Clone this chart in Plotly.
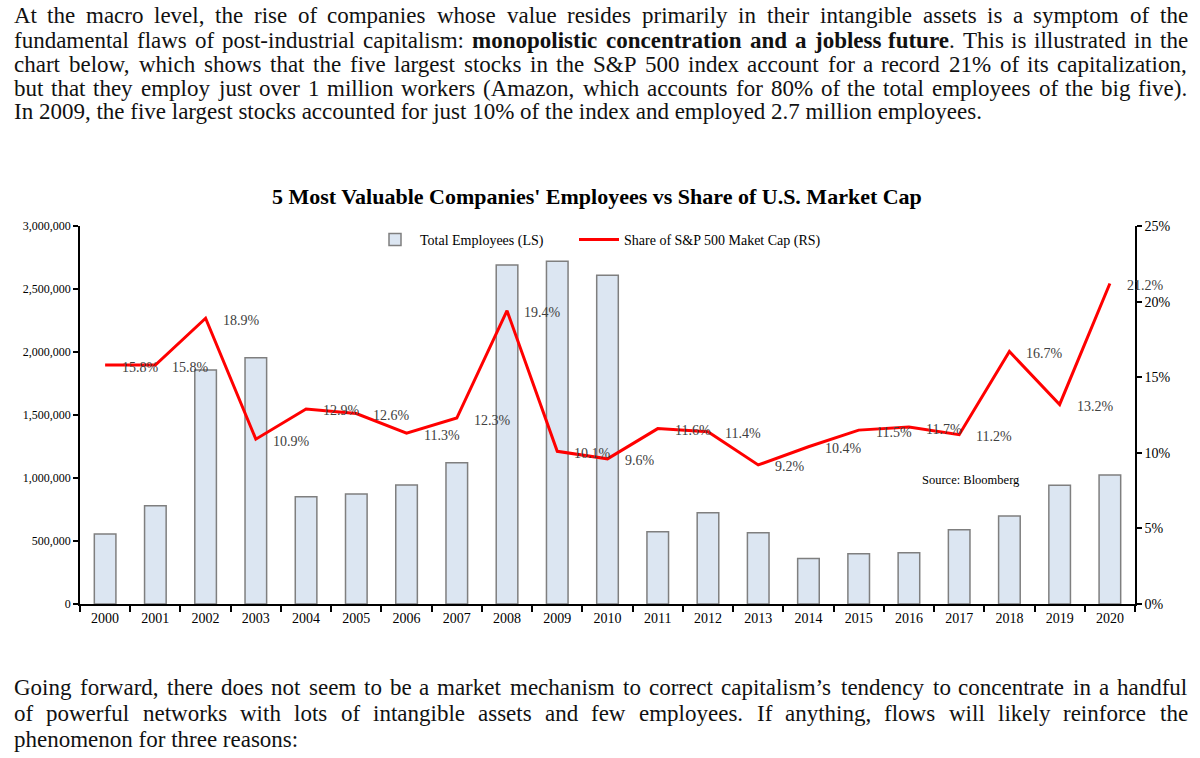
import re
import plotly.graph_objects as go

years = [str(y) for y in range(2000, 2021)]
employees = [555000, 780000, 1857000, 1955000, 852000, 873000, 944000, 1121000,
             2690000, 2720000, 2610000, 574000, 725000, 566000, 362000, 399000,
             407000, 590000, 698000, 942000, 1024000]
share = [15.8, 15.8, 18.9, 10.9, 12.9, 12.6, 11.3, 12.3, 19.4, 10.1, 9.6,
         11.6, 11.4, 9.2, 10.4, 11.5, 11.7, 11.2, 16.7, 13.2, 21.2]
share_frac = [v / 100 for v in share]
share_labels = [f"{v:.1f}%" for v in share]

left_ticks = [0, 500000, 1000000, 1500000, 2000000, 2500000, 3000000]
right_ticks = [0, 0.05, 0.10, 0.15, 0.20, 0.25]

top_lines = [
    "At the macro level, the rise of companies whose value resides primarily in their intangible assets is a symptom of the",
    "fundamental flaws of post-industrial capitalism: <b>monopolistic</b> <b>concentration</b> <b>and</b> <b>a</b> <b>jobless</b> <b>future</b>. This is illustrated in the",
    "chart below, which shows that the five largest stocks in the S&P 500 index account for a record 21% of its capitalization,",
    "but that they employ just over 1 million workers (Amazon, which accounts for 80% of the total employees of the big five).",
    "In 2009, the five largest stocks accounted for just 10% of the index and employed 2.7 million employees.",
]
top_justify = [True, True, True, True, False]
bottom_lines = [
    "Going forward, there does not seem to be a market mechanism to correct capitalism’s tendency to concentrate in a handful",
    "of powerful networks with lots of intangible assets and few employees. If anything, flows will likely reinforce the",
    "phenomenon for three reasons:",
]
bottom_justify = [True, True, False]

SERIF = "Liberation Serif, Times New Roman, serif"
W, H = 1200, 758
L, R, T, B = 80, 65, 226, 154
PW, PH = W - L - R, H - T - B
TEXT_LEFT, TEXT_RIGHT, TEXT_SIZE = 12, 1186, 23
WIDTH_FUDGE = 1.01

# Times/Liberation Serif advance widths (per 1000 em)
REG = {' ': 250, '%': 833, '&': 778, "'": 333, '’': 333, '(': 333, ')': 333, ',': 250,
       '-': 333, '.': 250, ':': 278, ';': 278, '?': 444,
       'A': 722, 'B': 667, 'C': 667, 'D': 722, 'E': 611, 'F': 556, 'G': 722, 'H': 722,
       'I': 333, 'J': 389, 'K': 722, 'L': 611, 'M': 889, 'N': 722, 'O': 722, 'P': 556,
       'Q': 722, 'R': 667, 'S': 556, 'T': 611, 'U': 722, 'V': 722, 'W': 944, 'X': 722,
       'Y': 722, 'Z': 611,
       'a': 444, 'b': 500, 'c': 444, 'd': 500, 'e': 444, 'f': 333, 'g': 500, 'h': 500,
       'i': 278, 'j': 278, 'k': 500, 'l': 278, 'm': 778, 'n': 500, 'o': 500, 'p': 500,
       'q': 500, 'r': 333, 's': 389, 't': 278, 'u': 500, 'v': 500, 'w': 722, 'x': 500,
       'y': 500, 'z': 444}
BOLD = {'a': 500, 'b': 556, 'c': 444, 'd': 556, 'e': 444, 'f': 333, 'g': 500, 'h': 556,
        'i': 278, 'j': 333, 'k': 556, 'l': 278, 'm': 833, 'n': 556, 'o': 500, 'p': 556,
        'q': 556, 'r': 444, 's': 389, 't': 333, 'u': 556, 'v': 500, 'w': 722, 'x': 500,
        'y': 500, 'z': 444, ' ': 250, '.': 250}


def word_width(word, size):
    total = 0
    for part in re.split(r"(<b>.*?</b>)", word):
        if part.startswith("<b>"):
            for ch in part[3:-4]:
                total += BOLD.get(ch, REG.get(ch, 500))
        else:
            for ch in part:
                total += REG.get(ch, 500)
    return total * size / 1000 * WIDTH_FUDGE


def px(x):
    return (x - L) / PW


def py(y):
    return (H - B - y) / PH


def text_line(line, yy, justify, annotations):
    font = dict(family=SERIF, size=TEXT_SIZE, color="#111111")
    if not justify:
        annotations.append(dict(x=px(TEXT_LEFT), y=py(yy), xref="paper", yref="paper",
                                text=line, showarrow=False, xanchor="left",
                                yanchor="middle", font=font))
        return
    words = line.split(" ")
    widths = [word_width(w, TEXT_SIZE) for w in words]
    gap = (TEXT_RIGHT - TEXT_LEFT - sum(widths)) / (len(words) - 1)
    xpos = TEXT_LEFT
    for w, wd in zip(words, widths):
        annotations.append(dict(x=px(xpos), y=py(yy), xref="paper", yref="paper",
                                text=w, showarrow=False, xanchor="left",
                                yanchor="middle", font=font))
        xpos += wd + gap


fig = go.Figure()
fig.add_trace(go.Bar(
    x=years, y=employees, name="Total Employees (LS)",
    marker=dict(color="#DCE6F2", line=dict(color="#7F7F7F", width=1.5)),
    width=0.43, yaxis="y", legend="legend",
))
fig.add_trace(go.Scatter(
    x=years, y=share_frac, name="Share of S&P 500 Maket Cap (RS)",
    mode="lines", line=dict(color="#FF0000", width=3), yaxis="y2", legend="legend2",
))

annotations = []
for i, (v, lab) in enumerate(zip(share_frac, share_labels)):
    annotations.append(dict(
        x=i, y=v, xref="x", yref="y2", text=lab, showarrow=False,
        xanchor="left", yanchor="middle", xshift=15, yshift=-2,
        font=dict(family=SERIF, size=14, color="#404040"),
    ))

for line, yy, j in zip(top_lines, [15, 40, 64, 88, 112], top_justify):
    text_line(line, yy, j, annotations)
for line, yy, j in zip(bottom_lines, [687, 713, 739], bottom_justify):
    text_line(line, yy, j, annotations)

annotations.append(dict(
    x=px(597), y=py(196), xref="paper", yref="paper",
    text="<b>5 Most Valuable Companies' Employees vs Share of U.S. Market Cap</b>",
    showarrow=False, xanchor="center", yanchor="middle",
    font=dict(family=SERIF, size=22, color="#000000"),
))
annotations.append(dict(
    x=px(920), y=py(480), xref="paper", yref="paper", text="Source: Bloomberg",
    showarrow=False, xanchor="left", yanchor="middle",
    font=dict(family=SERIF, size=12.5, color="#000000"),
))

legend_font = dict(family=SERIF, size=14, color="#000000")
fig.update_layout(
    width=W, height=H,
    margin=dict(l=L, r=R, t=T, b=B, pad=0),
    paper_bgcolor="white", plot_bgcolor="white",
    showlegend=True,
    legend=dict(orientation="h", x=px(370), y=py(240), xanchor="left", yanchor="middle",
                font=legend_font, bgcolor="rgba(0,0,0,0)", itemwidth=40),
    legend2=dict(orientation="h", x=px(574), y=py(240), xanchor="left", yanchor="middle",
                 font=legend_font, bgcolor="rgba(0,0,0,0)", itemwidth=40),
    xaxis=dict(
        type="category", range=[-0.5, 20.5], showline=True, linecolor="black", linewidth=1.5,
        ticks="outside", tickson="boundaries", ticklen=6, tickcolor="black", tickwidth=1.5,
        tickfont=dict(family=SERIF, size=14, color="#000000"), showgrid=False,
    ),
    yaxis=dict(
        range=[0, 3000000], tickvals=left_ticks, tickformat=",", showline=True,
        linecolor="black", linewidth=1.5, ticks="outside", ticklen=5, tickcolor="black",
        tickwidth=1.5, tickfont=dict(family=SERIF, size=12, color="#000000"),
        showgrid=False, zeroline=False,
    ),
    yaxis2=dict(
        range=[0, 0.25], tickvals=right_ticks, tickformat=".0%", overlaying="y", side="right",
        showline=True, linecolor="black", linewidth=1.5, ticks="outside", ticklen=5,
        tickcolor="black", tickwidth=1.5, tickfont=dict(family=SERIF, size=14, color="#000000"),
        showgrid=False, zeroline=False,
    ),
    annotations=annotations,
)

fig.write_html("out.html", config={"displayModeBar": False},
               post_script="document.body.style.margin='0';")
